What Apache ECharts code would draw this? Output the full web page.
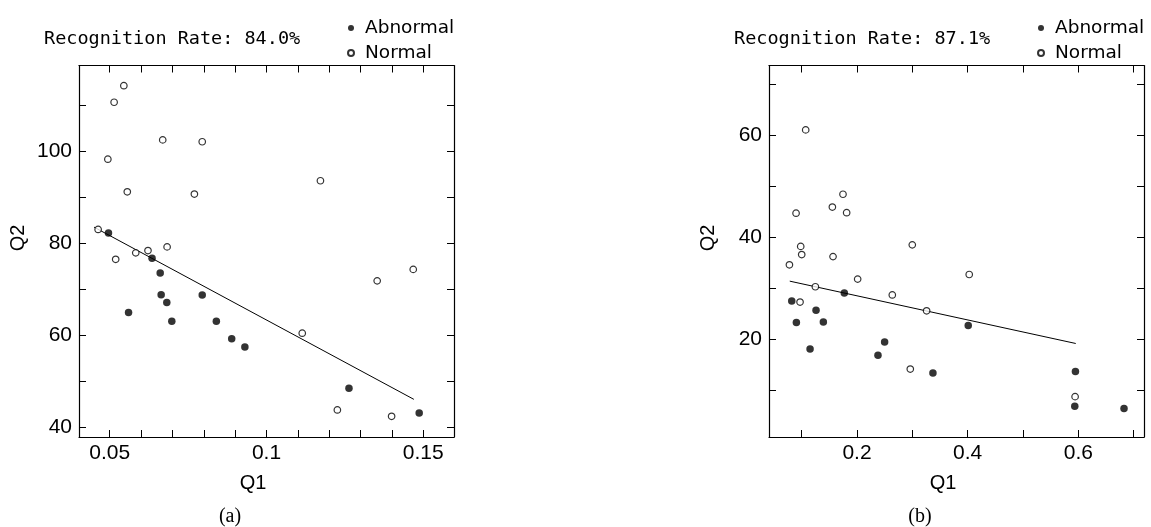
<!DOCTYPE html>
<html>
<head>
<meta charset="utf-8">
<script src="https://cdn.jsdelivr.net/npm/echarts@6/dist/echarts.min.js"></script>
<style>
  html, body { margin: 0; padding: 0; background: #fff; }
  #chart { width: 1151px; height: 527px; }
</style>
</head>
<body>
<div id="chart"></div>
<script>
// panel (a)
let aNormalQ1 = [0.0545, 0.0514, 0.0494, 0.0669, 0.0795, 0.0556, 0.0770, 0.1172, 0.0463, 0.0519, 0.0583, 0.0622, 0.0683, 0.1114, 0.1353, 0.1468, 0.1226, 0.1399];
let aNormalQ2 = [114.3, 110.7, 98.3, 102.5, 102.1, 91.2, 90.7, 93.6, 83.0, 76.5, 77.9, 78.4, 79.2, 60.4, 71.8, 74.3, 43.7, 42.3];
let aAbnormalQ1 = [0.0496, 0.0635, 0.0661, 0.0664, 0.0682, 0.0698, 0.0560, 0.0795, 0.0840, 0.0889, 0.0931, 0.1263, 0.1487];
let aAbnormalQ2 = [82.2, 76.7, 73.5, 68.8, 67.1, 63.0, 64.9, 68.7, 63.0, 59.2, 57.4, 48.4, 43.0];
let aFitQ1 = [0.045, 0.147];
let aFitQ2 = [83.5, 46.0];
let aQ1Ticks = [0.05, 0.06, 0.07, 0.08, 0.09, 0.1, 0.11, 0.12, 0.13, 0.14, 0.15];
let aQ1Labels = [0.05, 0.1, 0.15];
let aQ2Ticks = [40, 50, 60, 70, 80, 90, 100, 110];
let aQ2Labels = [40, 60, 80, 100];

// panel (b)
let bNormalQ1 = [0.1073, 0.0899, 0.1555, 0.1747, 0.1813, 0.0983, 0.1001, 0.1567, 0.0779, 0.2012, 0.2999, 0.4028, 0.1248, 0.2638, 0.0971, 0.3258, 0.2963, 0.5941];
let bNormalQ2 = [61.0, 44.7, 45.9, 48.4, 44.8, 38.2, 36.6, 36.2, 34.6, 31.8, 38.5, 32.7, 30.3, 28.7, 27.3, 25.6, 14.2, 8.8];
let bAbnormalQ1 = [0.0821, 0.1771, 0.1260, 0.0905, 0.1392, 0.1152, 0.2499, 0.2379, 0.3372, 0.4010, 0.5947, 0.5935, 0.6825];
let bAbnormalQ2 = [27.5, 29.1, 25.7, 23.3, 23.4, 18.1, 19.5, 16.9, 13.4, 22.7, 13.7, 6.9, 6.5];
let bFitQ1 = [0.0785, 0.5953];
let bFitQ2 = [31.4, 19.2];
let bQ1Ticks = [0.1, 0.2, 0.3, 0.4, 0.5, 0.6, 0.7];
let bQ1Labels = [0.2, 0.4, 0.6];
let bQ2Ticks = [10, 20, 30, 40, 50, 60, 70];
let bQ2Labels = [20, 40, 60];

let titles = ['Recognition Rate: 84.0%', 'Recognition Rate: 87.1%'];
let captions = ['(a)', '(b)'];

let zip = function (xs, ys) {
    return xs.map(function (x, i) { return [x, ys[i]]; });
};

let labelFont = 'Liberation Sans, Arial, sans-serif';
let lineColor = '#000';

// one grid per panel, axes on all four sides with inward ticks
let panels = [
    { left: 79, x: [0.0402, 0.1598], y: [37.8, 118.7], xt: aQ1Ticks, xl: aQ1Labels, yt: aQ2Ticks, yl: aQ2Labels },
    { left: 769, x: [0.041, 0.7186], y: [0.9, 73.6], xt: bQ1Ticks, xl: bQ1Labels, yt: bQ2Ticks, yl: bQ2Labels }
];

let grids = [];
let xAxes = [];
let yAxes = [];
panels.forEach(function (p, i) {
    grids.push({ left: p.left, top: 65.5, width: 375, height: 371.5 });
    [['bottom', true], ['top', false]].forEach(function (s) {
        xAxes.push({
            type: 'value', gridIndex: i, position: s[0], min: p.x[0], max: p.x[1],
            axisLine: { show: true, onZero: false, lineStyle: { color: lineColor, width: 1.2 } },
            axisTick: { show: true, inside: true, length: 7, customValues: p.xt, lineStyle: { color: lineColor } },
            axisLabel: { show: s[1], margin: 6, customValues: p.xl, color: '#000', fontSize: 21, fontFamily: labelFont },
            splitLine: { show: false }
        });
    });
    [['left', true], ['right', false]].forEach(function (s) {
        yAxes.push({
            type: 'value', gridIndex: i, position: s[0], min: p.y[0], max: p.y[1],
            axisLine: { show: true, onZero: false, lineStyle: { color: lineColor, width: 1.2 } },
            axisTick: { show: true, inside: true, length: 7, customValues: p.yt, lineStyle: { color: lineColor } },
            axisLabel: { show: s[1], margin: 7, customValues: p.yl, color: '#000', fontSize: 21, fontFamily: labelFont },
            splitLine: { show: false }
        });
    });
});

let normalStyle = { color: '#fff', borderColor: '#000', borderWidth: 1.2 };
let abnormalStyle = { color: '#000' };

let makeSeries = function (i, nx, ny, ax, ay, fx, fy) {
    return [
        {
            name: 'Normal', type: 'scatter', xAxisIndex: i * 2, yAxisIndex: i * 2,
            symbolSize: 6.5, itemStyle: normalStyle, data: zip(nx, ny), z: 3
        },
        {
            name: 'Abnormal', type: 'scatter', xAxisIndex: i * 2, yAxisIndex: i * 2,
            symbolSize: 7.5, itemStyle: abnormalStyle, data: zip(ax, ay), z: 4
        },
        {
            name: 'fit', type: 'line', xAxisIndex: i * 2, yAxisIndex: i * 2,
            symbol: 'none', lineStyle: { color: '#000', width: 1 }, data: zip(fx, fy), z: 2
        }
    ];
};

let series = makeSeries(0, aNormalQ1, aNormalQ2, aAbnormalQ1, aAbnormalQ2, aFitQ1, aFitQ2)
    .concat(makeSeries(1, bNormalQ1, bNormalQ2, bAbnormalQ1, bAbnormalQ2, bFitQ1, bFitQ2));

let legends = panels.map(function (p, i) {
    return {
        left: p.left + 263, top: 13, orient: 'vertical', itemGap: 5,
        itemWidth: 6, itemHeight: 6, icon: 'circle',
        data: ['Abnormal', 'Normal'],
        textStyle: { color: '#000', fontSize: 18.5, fontFamily: 'DejaVu Sans, sans-serif', lineHeight: 20, padding: [0, 0, 0, 6] }
    };
});

let graphics = [];
panels.forEach(function (p, i) {
    graphics.push({
        type: 'text', left: p.left - 35, top: 30,
        style: { text: titles[i], fill: '#000', font: '18.5px "DejaVu Sans Mono", monospace' }
    });
    graphics.push({
        type: 'text', x: p.left + 174, y: 483,
        style: { text: 'Q1', fill: '#000', font: '20px ' + labelFont, align: 'center', verticalAlign: 'middle' }
    });
    graphics.push({
        type: 'text', x: p.left - 61, y: 238, rotation: Math.PI / 2,
        style: { text: 'Q2', fill: '#000', font: '20px ' + labelFont, align: 'center', verticalAlign: 'middle' }
    });
    graphics.push({
        type: 'text', x: p.left + 151, y: 517,
        style: { text: captions[i], fill: '#000', font: '20px "Liberation Serif", serif', align: 'center', verticalAlign: 'middle' }
    });
});

let option = {
    animation: false,
    backgroundColor: '#fff',
    grid: grids,
    xAxis: xAxes,
    yAxis: yAxes,
    legend: legends,
    graphic: graphics,
    series: series
};

let chart = echarts.init(document.getElementById('chart'));
chart.setOption(option);
</script>
</body>
</html>
